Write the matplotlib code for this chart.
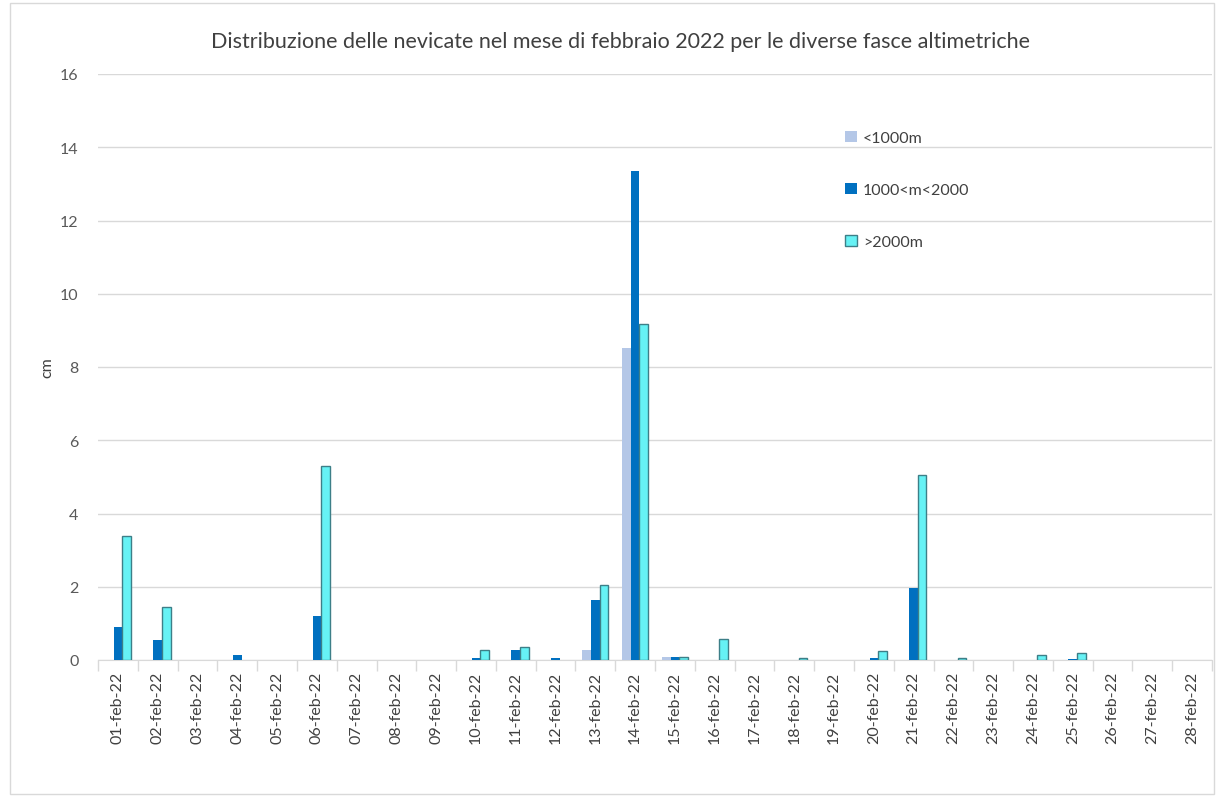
import matplotlib
matplotlib.use("Agg")
import matplotlib.pyplot as plt
import numpy as np
from matplotlib.patches import Rectangle

plt.rcParams['font.family'] = ['Lato', 'DejaVu Sans']

days = [f"{d:02d}-feb-22" for d in range(1, 29)]
low = [0, 0, 0, 0, 0, 0, 0, 0, 0, 0, 0, 0, 0.27, 8.52, 0.07, 0, 0, 0, 0, 0, 0, 0, 0, 0, 0, 0, 0, 0]
mid = [0.9, 0.55, 0, 0.14, 0, 1.2, 0, 0, 0, 0.06, 0.27, 0.06, 1.65, 13.36, 0.07, 0, 0, 0, 0, 0.06, 1.96, 0, 0, 0, 0.04, 0, 0, 0]
high = [3.39, 1.45, 0, 0, 0, 5.3, 0, 0, 0, 0.27, 0.36, 0, 2.05, 9.18, 0.07, 0.57, 0, 0.06, 0, 0.24, 5.05, 0.06, 0, 0.13, 0.2, 0, 0, 0]
series_names = ["<1000m", "1000<m<2000", ">2000m"]
yticks = [0, 2, 4, 6, 8, 10, 12, 14, 16]

fig = plt.figure(figsize=(12.16, 8.03), dpi=100)
ax = fig.add_axes([98 / 1216, 1 - 661 / 803, (1212 - 98) / 1216, (661 - 75) / 803])

x = np.arange(len(days))
w = 0.215
b1 = ax.bar(x - w, low, w, color="#b4c7e7", label=series_names[0], zorder=3)
b2 = ax.bar(x, mid, w, color="#0070c0", label=series_names[1], zorder=3)
b3 = ax.bar(x + w, high, w, color="#66f2f5", edgecolor="#3d7f88", linewidth=1.0, label=series_names[2], zorder=3)
for bar, v in zip(b3, high):
    if v == 0:
        bar.set_linewidth(0)

ax.set_xlim(-0.5, len(days) - 0.5)
ax.set_ylim(0, 16)
ax.set_yticks(yticks)
ax.set_yticklabels([str(t) for t in yticks], fontsize=11.5, color="#595959")
ax.yaxis.grid(True, color="#d9d9d9", linewidth=1.0, zorder=0)
ax.tick_params(axis='y', length=0, pad=14)

ax.set_xticks(x)
ax.set_xticklabels(days, rotation=90, fontsize=11.5, color="#404040")
ax.tick_params(axis='x', length=0, pad=8)
ax.set_xticks(np.arange(-0.5, len(days), 1), minor=True)
ax.tick_params(axis='x', which='minor', length=8, color="#d9d9d9", width=1)

for s in ['left', 'right', 'top']:
    ax.spines[s].set_visible(False)
ax.spines['bottom'].set_color("#d9d9d9")

ax.set_ylabel("cm", fontsize=11.5, color="#404040", labelpad=4)
fig.text(0.51, 0.948, "Distribuzione delle nevicate nel mese di febbraio 2022 per le diverse fasce altimetriche",
         ha='center', va='center', fontsize=15.5, color="#404040")

leg = ax.legend(loc='upper left', bbox_to_anchor=(0.658, 0.927), frameon=False, fontsize=11.5,
                labelspacing=2.35, handlelength=0.7, handleheight=0.7, handletextpad=0.4)
for t in leg.get_texts():
    t.set_color("#404040")

fig.patches.append(Rectangle((0.008, 0.01), 0.99, 0.985, transform=fig.transFigure,
                             fill=False, edgecolor="#d9d9d9", linewidth=1))

fig.savefig("out.png", dpi=100, facecolor="white")
